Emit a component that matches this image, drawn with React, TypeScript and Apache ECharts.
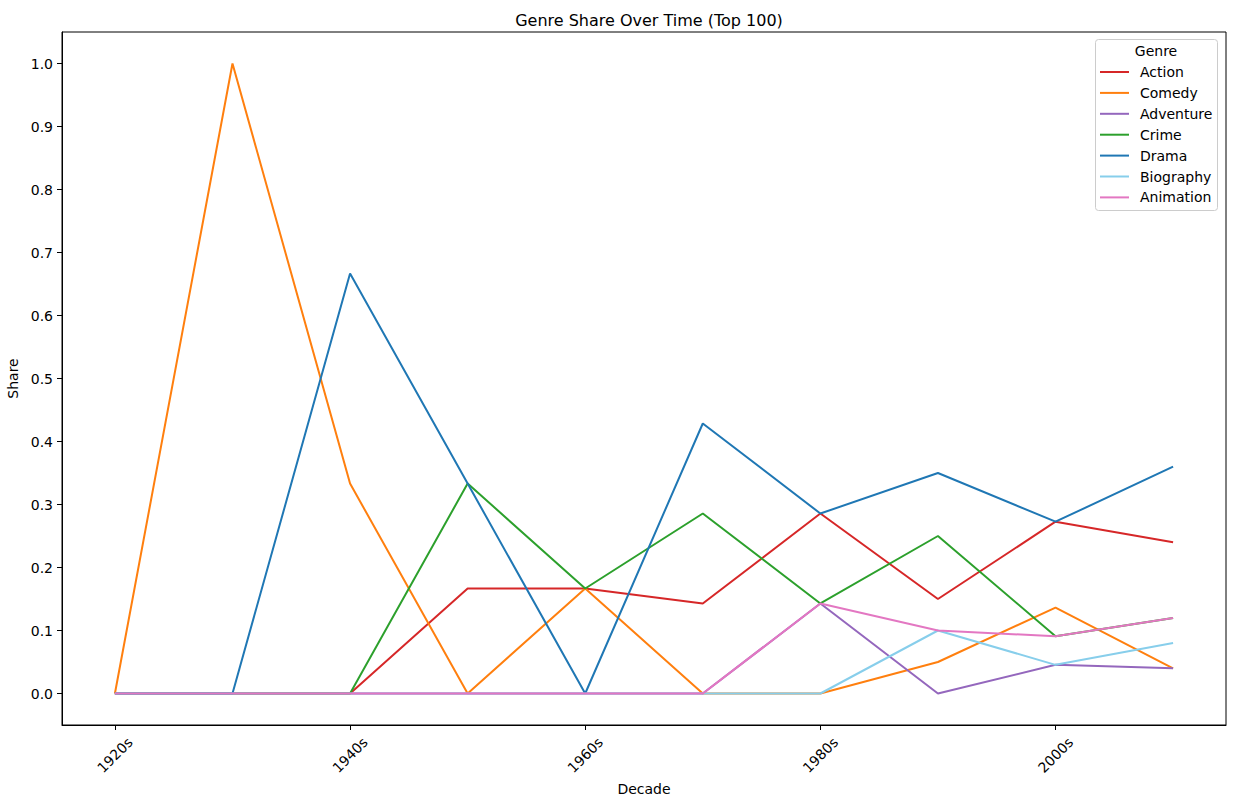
import React, { useEffect, useRef } from "react";
import * as echarts from "echarts";

const decades = ["1920s", "1930s", "1940s", "1950s", "1960s", "1970s", "1980s", "1990s", "2000s", "2010s"];
const xTickIdx = [0, 2, 4, 6, 8];
const yTicks = [0, 0.1, 0.2, 0.3, 0.4, 0.5, 0.6, 0.7, 0.8, 0.9, 1.0];

const action = [0, 0, 0, 0.1667, 0.1667, 0.1429, 0.2857, 0.15, 0.2727, 0.24];
const comedy = [0, 1.0, 0.3333, 0, 0.1667, 0, 0, 0.05, 0.1364, 0.04];
const adventure = [0, 0, 0, 0, 0, 0, 0.1429, 0, 0.0455, 0.04];
const crime = [0, 0, 0, 0.3333, 0.1667, 0.2857, 0.1429, 0.25, 0.0909, 0.12];
const drama = [0, 0, 0.6667, 0.3333, 0, 0.4286, 0.2857, 0.35, 0.2727, 0.36];
const biography = [0, 0, 0, 0, 0, 0, 0, 0.1, 0.0455, 0.08];
const animation = [0, 0, 0, 0, 0, 0, 0.1429, 0.1, 0.0909, 0.12];

const seriesDefs = [
  { name: "Action", data: action, color: "#d62728" },
  { name: "Comedy", data: comedy, color: "#ff7f0e" },
  { name: "Adventure", data: adventure, color: "#9467bd" },
  { name: "Crime", data: crime, color: "#2ca02c" },
  { name: "Drama", data: drama, color: "#1f77b4" },
  { name: "Biography", data: biography, color: "#87ceeb" },
  { name: "Animation", data: animation, color: "#e377c2" },
];

const FONT = "DejaVu Sans";

export default function App() {
  const ref = useRef<HTMLDivElement>(null);
  useEffect(() => {
    document.body.style.margin = "0";
    if (!ref.current) return;
    const chart = echarts.init(ref.current, null, { renderer: "svg" });
    chart.setOption({
      animation: false,
      backgroundColor: "#ffffff",
      textStyle: { fontFamily: FONT },
      title: {
        text: "Genre Share Over Time (Top 100)",
        left: 644,
        top: 7,
        textAlign: "center",
        textStyle: { fontFamily: FONT, fontSize: 16, fontWeight: "normal", color: "#000" },
      },
      grid: {
        left: 62,
        right: 7,
        top: 32,
        bottom: 79,
        containLabel: false,
        outerBoundsMode: "none",
        show: true,
        borderColor: "#000",
        borderWidth: 1,
        backgroundColor: "transparent",
      },
      xAxis: {
        type: "value",
        min: -0.45,
        max: 9.45,
        name: "Decade",
        nameLocation: "middle",
        nameGap: 56,
        nameTextStyle: { fontFamily: FONT, fontSize: 14, color: "#000" },
        axisLine: { show: true, onZero: false, lineStyle: { color: "#000", width: 1 } },
        axisTick: { show: true, length: 5, lineStyle: { color: "#000" }, customValues: xTickIdx },
        splitLine: { show: false },
        axisLabel: {
          customValues: xTickIdx,
          formatter: (v: number) => decades[Math.round(v)] ?? "",
          rotate: 45,
          align: "center",
          verticalAlign: "middle",
          margin: 30,
          fontFamily: FONT,
          fontSize: 14,
          color: "#000",
        },
      },
      yAxis: {
        type: "value",
        min: -0.05,
        max: 1.05,
        name: "Share",
        nameLocation: "middle",
        nameGap: 39,
        nameTextStyle: { fontFamily: FONT, fontSize: 14, color: "#000" },
        axisLine: { show: true, onZero: false, lineStyle: { color: "#000", width: 1 } },
        axisTick: { show: true, length: 5, lineStyle: { color: "#000" }, customValues: yTicks },
        splitLine: { show: false },
        axisLabel: {
          customValues: yTicks,
          formatter: (v: number) => v.toFixed(1),
          margin: 9,
          fontFamily: FONT,
          fontSize: 14,
          color: "#000",
        },
      },
      legend: {
        orient: "vertical",
        left: 1100,
        top: 65,
        icon: "rect",
        itemWidth: 29,
        itemHeight: 2,
        itemGap: 6.9,
        padding: 0,
        data: seriesDefs.map((s) => s.name),
        textStyle: { fontFamily: FONT, fontSize: 14, color: "#000", lineHeight: 14, padding: [0, 0, 0, 6] },
      },
      graphic: [
        {
          type: "rect",
          shape: { x: 1095.5, y: 39.5, width: 122, height: 171, r: 3 },
          style: { fill: "rgba(255,255,255,0.8)", stroke: "#cccccc", lineWidth: 1 },
          z: -1,
          silent: true,
        },
        {
          type: "text",
          x: 1156,
          y: 51,
          style: {
            text: "Genre",
            fill: "#000",
            fontFamily: FONT,
            fontSize: 14,
            align: "center",
            verticalAlign: "middle",
          },
        },
      ],
      series: seriesDefs.map((s) => ({
        name: s.name,
        type: "line",
        data: s.data.map((v, i) => [i, v]),
        showSymbol: false,
        symbol: "none",
        lineStyle: { color: s.color, width: 2 },
        itemStyle: { color: s.color },
        emphasis: { disabled: true },
      })),
    });
    return () => chart.dispose();
  }, []);
  return <div ref={ref} style={{ width: 1233, height: 804 }} />;
}
